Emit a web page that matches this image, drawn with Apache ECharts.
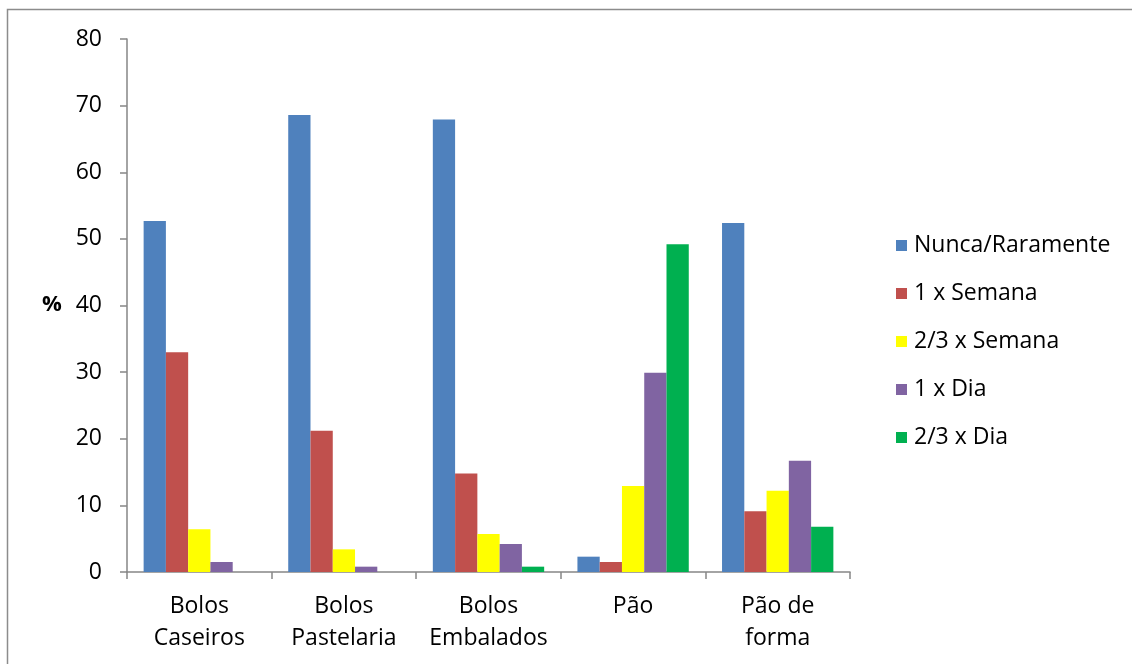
<!DOCTYPE html>
<html>
<head>
<meta charset="utf-8">
<script src="https://cdn.jsdelivr.net/npm/echarts@6/dist/echarts.min.js"></script>
<style>
  html, body { margin: 0; padding: 0; background: #ffffff; }
  #chart { width: 1132px; height: 664px; }
</style>
</head>
<body>
<div id="chart"></div>
<script>
// Product categories on the x axis
const categories = ['Bolos\nCaseiros', 'Bolos\nPastelaria', 'Bolos\nEmbalados', 'Pão', 'Pão de\nforma'];

// Consumption frequency (%) per category
const nuncaRaramente = [52.7, 68.6, 67.9, 2.3, 52.4];
const umSemana      = [33.0, 21.2, 14.8, 1.5, 9.1];
const doisTresSemana = [6.4, 3.4, 5.7, 12.9, 12.2];
const umDia         = [1.5, 0.8, 4.2, 29.9, 16.7];
const doisTresDia   = [0, 0, 0.8, 49.2, 6.8];

const seriesNames = ['Nunca/Raramente', '1 x Semana', '2/3 x Semana', '1 x Dia', '2/3 x Dia'];
const seriesData = [nuncaRaramente, umSemana, doisTresSemana, umDia, doisTresDia];
const seriesColors = ['#4F81BD', '#C0504D', '#FFFF00', '#8064A2', '#00B050'];

const yTicks = { min: 0, max: 80, interval: 10 };

const FONT = '"Open Sans", sans-serif';
const AXIS_GRAY = '#868686';

const chart = echarts.init(document.getElementById('chart'), null, { renderer: 'canvas' });

chart.setOption({
  animation: false,
  backgroundColor: '#ffffff',
  textStyle: { fontFamily: FONT },
  graphic: [
    {
      type: 'rect',
      shape: { x: 7.5, y: 9.5, width: 1300, height: 800 },
      style: { fill: 'none', stroke: '#8c8c8c', lineWidth: 1.5 },
      silent: true
    },
    {
      type: 'text',
      left: 42,
      top: 294,
      style: { text: '%', font: 'bold 22px ' + FONT, fill: '#000000' }
    }
  ],
  grid: { left: 127, right: 282, top: 39, bottom: 92, containLabel: false },
  legend: {
    orient: 'vertical',
    left: 891,
    top: 229,
    itemWidth: 11,
    itemHeight: 11,
    itemGap: 25,
    icon: 'rect',
    data: seriesNames,
    textStyle: { fontFamily: FONT, fontSize: 23, color: '#000000', lineHeight: 23, padding: [0, 0, 0, 2] }
  },
  xAxis: {
    type: 'category',
    data: categories,
    boundaryGap: true,
    axisLine: { show: true, lineStyle: { color: AXIS_GRAY, width: 1.5 } },
    axisTick: { show: true, length: 7, lineStyle: { color: AXIS_GRAY, width: 1.5 } },
    axisLabel: {
      color: '#000000',
      fontFamily: FONT,
      fontSize: 23,
      lineHeight: 32,
      margin: 18,
      interval: 0
    },
    splitLine: { show: false }
  },
  yAxis: {
    type: 'value',
    min: yTicks.min,
    max: yTicks.max,
    interval: yTicks.interval,
    axisLine: { show: true, lineStyle: { color: AXIS_GRAY, width: 1.5 } },
    axisTick: { show: true, length: 7, lineStyle: { color: AXIS_GRAY, width: 1.5 } },
    axisLabel: { color: '#000000', fontFamily: FONT, fontSize: 23, margin: 25 },
    splitLine: { show: false }
  },
  series: seriesNames.map((name, i) => ({
    name: name,
    type: 'bar',
    data: seriesData[i],
    barGap: '0%',
    barCategoryGap: '23%',
    itemStyle: { color: seriesColors[i] }
  }))
});
</script>
</body>
</html>
